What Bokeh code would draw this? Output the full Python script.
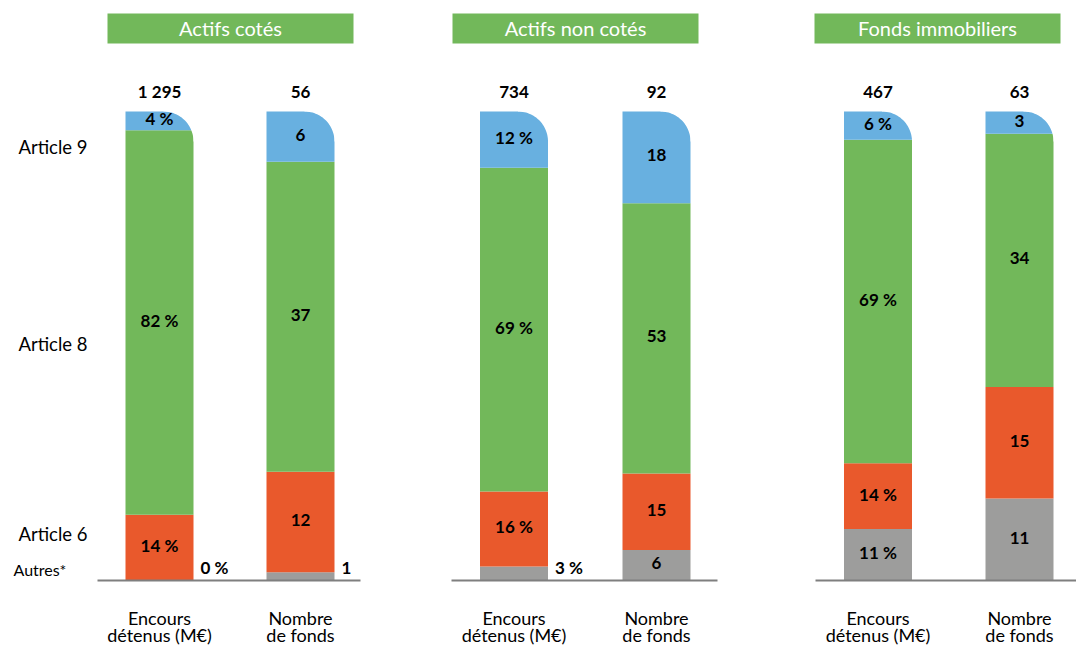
import numpy as np
from bokeh.plotting import figure
from bokeh.models import Range1d
from bokeh.core.properties import value
from bokeh.embed import file_html
from bokeh.resources import INLINE

# ---------------- data ----------------
panels = ["Actifs cotés", "Actifs non cotés", "Fonds immobiliers"]
categories = ["Autres*", "Article 6", "Article 8", "Article 9"]
bar_labels = [["Encours", "détenus (M€)"], ["Nombre", "de fonds"]]

encours_total = [1295, 734, 467]
encours_autres = [0, 3, 11]
encours_art6 = [14, 16, 14]
encours_art8 = [82, 69, 69]
encours_art9 = [4, 12, 6]

fonds_total = [56, 92, 63]
fonds_autres = [1, 6, 11]
fonds_art6 = [12, 15, 15]
fonds_art8 = [37, 53, 34]
fonds_art9 = [6, 18, 3]

# ---------------- style / layout ----------------
W, H = 1076, 648
BASE_PX, TOP_PX = 580, 111
S = (BASE_PX - TOP_PX) / 100.0          # pixels per percent unit
colors = ["#9d9d9c", "#e9592c", "#72b85a", "#68b0e0"]
header_color = "#72b85a"
FONT = "Lato"
bar_centers = [[159, 300], [513.5, 656], [877.5, 1019]]
header_left = [107, 452, 814]
header_w = 246
axis_span = [[97, 360], [451, 717], [815, 1076]]
BAR_W = 68
R = 30  # corner radius (px)
TXT_SHIFT = 2 / S  # raise texts slightly


def ydata(px):
    return (BASE_PX - px) / S


p = figure(width=W, height=H, output_backend="svg", toolbar_location=None,
           x_range=Range1d(0, W), y_range=Range1d(ydata(H), ydata(0)),
           min_border=0)
p.axis.visible = False
p.grid.visible = False
p.outline_line_color = None
p.background_fill_color = "white"


def fmt_total(v):
    return f"{v:,}".replace(",", "\u202f")


series = [
    (encours_total, [encours_autres, encours_art6, encours_art8, encours_art9], True),
    (fonds_total, [fonds_autres, fonds_art6, fonds_art8, fonds_art9], False),
]

in_x, in_y, in_t = [], [], []
out_x, out_y, out_t = [], [], []
tot_x, tot_y, tot_t = [], [], []
bl_x, bl_y1, bl_y2, bl_t1, bl_t2 = [], [], [], [], []

for pi in range(len(panels)):
    for bi, (totals, segs, is_pct) in enumerate(series):
        xc = bar_centers[pi][bi]
        total = 100 if is_pct else totals[pi]
        vals = [seg[pi] for seg in segs]
        bottom = 0.0
        for ci, v in enumerate(vals):
            h = v / total * 100.0
            top = bottom + h
            if h > 0:
                p.vbar(x=[xc], bottom=[bottom], top=[top], width=BAR_W,
                       fill_color=colors[ci], line_color=None)
            lab = f"{v}\u202f%" if is_pct else f"{v}"
            if ci == 0 and h * S < 16:
                out_x.append(xc + BAR_W / 2 + 7)
                out_y.append(ydata(569) + TXT_SHIFT)
                out_t.append(lab)
            else:
                in_x.append(xc)
                in_y.append((bottom + top) / 2 + TXT_SHIFT)
                in_t.append(lab)
            bottom = top
        # white mask for rounded top-right corner
        xr = xc + BAR_W / 2
        ry = R / S
        cx, cy = xr - R, 100 - ry
        t = np.linspace(np.pi / 2, 0, 30)
        xs = [xr + 2, xr + 2, cx] + list(cx + R * np.cos(t)) + [xr + 2]
        ys = [cy, 100 + 1, 100 + 1] + list(cy + ry * np.sin(t)) + [cy]
        p.patch(xs, ys, fill_color="white", line_color=None)
        tot_x.append(xc)
        tot_y.append(ydata(93) + TXT_SHIFT)
        tot_t.append(fmt_total(totals[pi]))
        bl_x.append(xc)
        bl_y1.append(ydata(619) + TXT_SHIFT)
        bl_y2.append(ydata(636) + TXT_SHIFT)
        bl_t1.append(bar_labels[bi][0])
        bl_t2.append(bar_labels[bi][1])

    # baseline
    p.segment(x0=[axis_span[pi][0]], y0=[0], x1=[axis_span[pi][1]], y1=[0],
              line_color="#7f7f7f", line_width=2)
    # header
    p.quad(left=[header_left[pi]], right=[header_left[pi] + header_w],
           top=[ydata(13)], bottom=[ydata(43)], fill_color=header_color, line_color=None)
    p.text(x=[header_left[pi] + header_w / 2], y=[ydata(29) + TXT_SHIFT], text=[panels[pi]],
           text_font=value(FONT), text_font_size="20px", text_color="white",
           text_align="center", text_baseline="middle")

bold = dict(text_font=value(FONT), text_font_size="17px", text_font_style="bold",
            text_color="black", text_baseline="middle")
p.text(x=in_x, y=in_y, text=in_t, text_align="center", **bold)
p.text(x=out_x, y=out_y, text=out_t, text_align="left", **bold)
p.text(x=tot_x, y=tot_y, text=tot_t, text_align="center", **bold)

reg = dict(text_font=value(FONT), text_font_size="18px", text_color="black",
           text_baseline="middle", text_align="center")
p.text(x=bl_x, y=bl_y1, text=bl_t1, **reg)
p.text(x=bl_x, y=bl_y2, text=bl_t2, **reg)

# left category labels
cat_y_px = [571, 535, 345, 148]
cat_x_px = [13, 18, 18, 18]
cat_size = ["16px", "18.5px", "18.5px", "18.5px"]
for ci, c in enumerate(categories):
    p.text(x=[cat_x_px[ci]], y=[ydata(cat_y_px[ci]) + TXT_SHIFT], text=[c],
           text_font=value(FONT), text_font_size=cat_size[ci], text_color="black",
           text_align="left", text_baseline="middle")

open("out.html", "w").write(file_html(p, INLINE))
